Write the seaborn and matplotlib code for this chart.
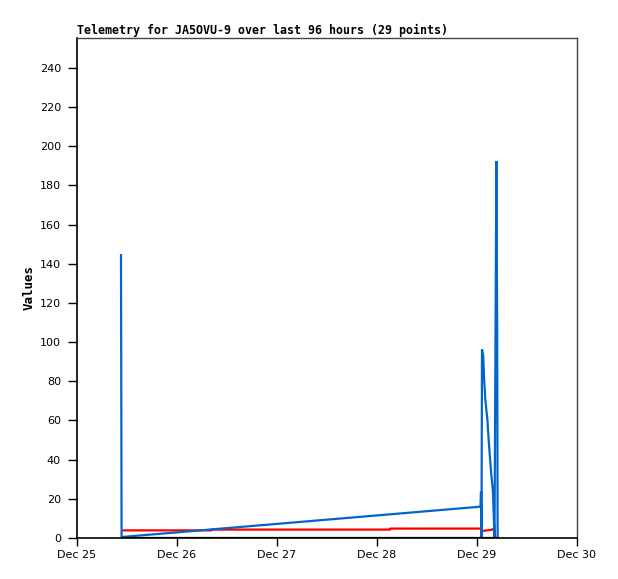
import numpy as np
import pandas as pd
import matplotlib
matplotlib.use("Agg")
import matplotlib.pyplot as plt
import matplotlib.dates as mdates
import seaborn as sns

# ---- data (hours after Dec 25 00:00) ----
blue_hours = [10.56, 10.70, 96.84, 96.96, 97.08, 97.20, 97.50, 97.68, 98.00, 98.50,
              98.80, 99.10, 99.40, 99.80, 99.90, 100.20, 100.65, 100.85, 100.95]
blue_values = [145, 0.5, 16.0, 23.6, 0, 96.4, 92.6, 82.4, 70.5, 60.3,
               50.0, 41.5, 33.0, 24.5, 19.4, 0, 192.5, 104.7, 0]

red_hours = [10.56, 32.2, 32.3, 75.1, 75.2, 96.9, 97.3, 99.6, 99.9]
red_values = [3.9, 3.9, 4.3, 4.3, 4.8, 4.8, 3.6, 4.2, 4.8]

black_hours = [10.56, 100.95]
black_values = [0, 0]

x_tick_days = ["2023-12-25", "2023-12-26", "2023-12-27", "2023-12-28", "2023-12-29", "2023-12-30"]
y_ticks = list(range(0, 241, 20))

title = "Telemetry for JA5OVU-9 over last 96 hours (29 points)"
ylabel = "Values"

base = pd.Timestamp("2023-12-25 00:00")


def frame(hours, values):
    return pd.DataFrame({"t": base + pd.to_timedelta(hours, unit="h"), "v": values})


sns.set_style("white")
plt.rcParams["font.family"] = ["DejaVu Sans"]
plt.rcParams["text.color"] = "black"
plt.rcParams["axes.labelcolor"] = "black"

fig = plt.figure(figsize=(6.18, 5.79), dpi=100)
ax = fig.add_axes([77 / 618, 41 / 579, 500 / 618, 500 / 579])

line_kw = dict(linewidth=1.6, estimator=None, sort=False, ax=ax)
sns.lineplot(data=frame(red_hours, red_values), x="t", y="v", color="#ff0000", **line_kw)
sns.lineplot(data=frame(blue_hours, blue_values), x="t", y="v", color="#0066cc", **line_kw)
sns.lineplot(data=frame(black_hours, black_values), x="t", y="v", color="#000000", **line_kw)
for ln in ax.get_lines():
    ln.set_solid_joinstyle("miter")
    ln.set_solid_capstyle("butt")

ax.set_xlim(pd.Timestamp(x_tick_days[0]), pd.Timestamp(x_tick_days[-1]))
ax.set_ylim(0, 255.3)
ax.set_xticks([pd.Timestamp(d) for d in x_tick_days])
ax.xaxis.set_major_formatter(mdates.DateFormatter("%b %d"))
ax.set_yticks(y_ticks)

ax.tick_params(axis="y", direction="out", length=6.5, width=1, pad=5, labelsize=8, colors="black")
ax.tick_params(axis="x", direction="out", length=6, width=1, pad=3, labelsize=8, colors="black")
ax.yaxis.set_ticks_position("left")
ax.xaxis.set_ticks_position("bottom")

for s in ["left", "bottom"]:
    ax.spines[s].set_color("black")
    ax.spines[s].set_linewidth(1.2)
for s in ["top", "right"]:
    ax.spines[s].set_color("#444444")
    ax.spines[s].set_linewidth(1.0)

ax.set_xlabel("")
ax.set_ylabel(ylabel, family="DejaVu Sans Mono", fontweight="bold", fontsize=9, labelpad=3,
              color="black")
ax.set_title(title, loc="left", family="DejaVu Sans Mono", fontweight="bold", fontsize=8.4, pad=3,
             color="black")
ax.grid(False)

fig.savefig("out.png", dpi=100, facecolor="white")
